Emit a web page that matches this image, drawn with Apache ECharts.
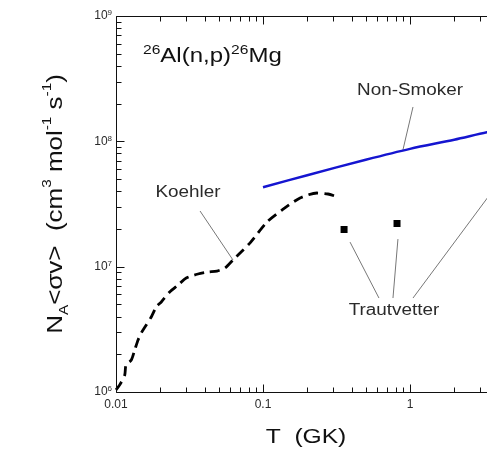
<!DOCTYPE html>
<html><head><meta charset="utf-8">
<script src="https://cdn.jsdelivr.net/npm/echarts@6/dist/echarts.min.js"></script>
<style>html,body{margin:0;padding:0;background:#fff}#c{width:487px;height:456px}</style>
</head><body><div id="c"></div>
<script>
// ---- data ----
const xTickValues = [0.01, 0.1, 1, 10];
const xTickLabels = ['0.01', '0.1', '1', '10'];
const yTickExponents = [6, 7, 8, 9];

const koehlerT = [0.0100, 0.0106, 0.01146, 0.0117, 0.01271, 0.0134, 0.01413, 0.01486, 0.01607, 0.01738, 0.0188, 0.02033, 0.02317, 0.02642, 0.03006, 0.03612, 0.04224, 0.0486, 0.0551, 0.0625, 0.0817, 0.1064, 0.1346, 0.1787, 0.2328, 0.2767, 0.309];
const koehlerRate = [1.04e6, 1.14e6, 1.36e6, 1.64e6, 1.80e6, 2.16e6, 2.60e6, 2.96e6, 3.43e6, 3.97e6, 4.77e6, 5.23e6, 6.28e6, 7.14e6, 8.12e6, 8.74e6, 9.06e6, 9.23e6, 9.75e6, 1.13e7, 1.55e7, 2.27e7, 2.83e7, 3.53e7, 3.87e7, 3.80e7, 3.66e7];

const nonSmokerT = [0.1, 0.2, 0.5, 1, 2, 3.34, 5];
const nonSmokerRate = [4.3e7, 5.37e7, 7.13e7, 8.71e7, 1.03e8, 1.18e8, 1.29e8];

const trautvetterT = [0.356, 0.816];
const trautvetterRate = [1.98e7, 2.21e7];

// leader lines for the annotations (data space)
const koehlerLeader = [[0.0373, 2.78e7], [0.0625, 1.13e7]];
const nonSmokerLeader = [[1.048, 1.88e8], [0.895, 8.53e7]];
const trautLeader1 = [[0.391, 1.57e7], [0.615, 5.62e6]];
const trautLeader2 = [[0.828, 1.66e7], [0.766, 5.62e6]];
const trautLeader3 = [[1.048, 5.62e6], [4.09, 4.82e7]];

// ---- chart ----
const FONT = "'Liberation Sans', Arial, Helvetica, sans-serif";
const TXT = '#2a2a2a';
const X_MIN = 0.01, X_MAX = 10, Y_MIN = 1e6, Y_MAX = 1e9;
const minorXVals = [], minorYVals = [];
for (let d = -2; d < 1; d++) for (let m = 2; m <= 9; m++) minorXVals.push(m * Math.pow(10, d));
for (let d = 6; d < 9; d++) for (let m = 2; m <= 9; m++) minorYVals.push(m * Math.pow(10, d));

const pairs = (xs, ys) => xs.map((x, i) => [x, ys[i]]);
const leader = (d) => ({type: 'line', data: d, symbol: 'none', xAxisIndex: 0, yAxisIndex: 0,
  lineStyle: {color: '#777', width: 1}});

// frame + tick marks, positioned through the axes' scales (api.coord)
function renderFrame(params, api) {
  const snap = p => Math.round(p) + 0.5;
  const c0 = api.coord([X_MIN, Y_MIN]);
  const c1 = api.coord([X_MAX, Y_MAX]);
  const L = snap(c0[0]), B = snap(c0[1]), T = snap(c1[1]), R = c1[0];
  const kids = [];
  const seg = (x1, y1, x2, y2) => kids.push({type: 'line', shape: {x1: x1, y1: y1, x2: x2, y2: y2},
    style: {stroke: '#111', lineWidth: 1}});
  seg(L, B, R, B);
  seg(L, T, R, T);
  seg(L, T, L, B);
  xTickValues.forEach(v => { const x = snap(api.coord([v, Y_MIN])[0]); seg(x, B, x, B - 8); seg(x, T, x, T + 8); });
  minorXVals.forEach(v => { const x = snap(api.coord([v, Y_MIN])[0]); seg(x, B, x, B - 5); seg(x, T, x, T + 5); });
  yTickExponents.forEach(e => { const y = snap(api.coord([X_MIN, Math.pow(10, e)])[1]); seg(L, y, L + 8, y); });
  minorYVals.forEach(v => { const y = snap(api.coord([X_MIN, v])[1]); seg(L, y, L + 5, y); });
  return {type: 'group', children: kids};
}

const chart = echarts.init(document.getElementById('c'));
chart.setOption({
  animation: false,
  grid: {left: 116, top: 16, width: 441, height: 376, containLabel: false, outerBoundsMode: 'none'},
  xAxis: {type: 'log', logBase: 10, min: X_MIN, max: X_MAX, position: 'bottom',
    axisLine: {show: false, onZero: false}, axisTick: {show: false}, splitLine: {show: false},
    axisLabel: {margin: 7, fontSize: 12, fontFamily: FONT, color: TXT,
      formatter: v => { const i = xTickValues.findIndex(t => Math.abs(Math.log10(t) - Math.log10(v)) < 1e-6); return i >= 0 ? xTickLabels[i] : ''; }}},
  yAxis: {type: 'log', logBase: 10, min: Y_MIN, max: Y_MAX, position: 'left',
    axisLine: {show: false, onZero: false}, axisTick: {show: false}, splitLine: {show: false},
    axisLabel: {margin: 4,
      formatter: v => '{b|10}{s|' + Math.round(Math.log10(v)) + '}',
      rich: {b: {fontSize: 12, fontFamily: FONT, color: TXT, lineHeight: 14},
             s: {fontSize: 8, fontFamily: FONT, color: TXT, lineHeight: 8, verticalAlign: 'top'}}}},
  series: [
    {type: 'custom', name: 'frame', xAxisIndex: 0, yAxisIndex: 0, clip: false, silent: true,
     data: [[X_MIN, Y_MIN]], renderItem: renderFrame, z: 5},
    leader(koehlerLeader), leader(nonSmokerLeader), leader(trautLeader1), leader(trautLeader2), leader(trautLeader3),
    {type: 'line', name: 'Non-Smoker', data: pairs(nonSmokerT, nonSmokerRate), symbol: 'none', smooth: 0.3,
     xAxisIndex: 0, yAxisIndex: 0, lineStyle: {color: '#1515d0', width: 2.5}},
    {type: 'line', name: 'Trautvetter', data: pairs(trautvetterT, trautvetterRate), symbol: 'rect', symbolSize: 7, showSymbol: true,
     xAxisIndex: 0, yAxisIndex: 0, itemStyle: {color: '#000', borderWidth: 0}, lineStyle: {width: 0, opacity: 0}},
    {type: 'line', name: 'Koehler', data: pairs(koehlerT, koehlerRate), symbol: 'none', smooth: 0.25,
     xAxisIndex: 0, yAxisIndex: 0, lineStyle: {color: '#000', width: 2.8, type: [10, 6]}}
  ],
  graphic: [
    {type: 'text', x: 143, y: 56, scaleX: 1.2,
     style: {text: '{s|26}{b|Al(n,p)}{s|26}{b|Mg}', align: 'left', verticalAlign: 'middle',
       rich: {s: {fontSize: 13, fontFamily: FONT, fill: '#111', lineHeight: 13, verticalAlign: 'top'},
              b: {fontSize: 20, fontFamily: FONT, fill: '#111', lineHeight: 24}}}},
    {type: 'text', x: 306, y: 437, scaleX: 1.23,
     style: {text: 'T  (GK)', fontSize: 20, fontFamily: FONT, fill: '#111', align: 'center', verticalAlign: 'middle'}},
    {type: 'text', x: 56, y: 204, rotation: Math.PI / 2, scaleX: 1.18,
     style: {text: '{b|N}{sub|A}{b|<σv>  (cm}{sup|3}{b| mol}{sup|-1}{b| s}{sup|-1}{b|)}', align: 'center', verticalAlign: 'middle',
       rich: {b: {fontSize: 22, fontFamily: FONT, fill: '#111', lineHeight: 30},
              sub: {fontSize: 13, fontFamily: FONT, fill: '#111', lineHeight: 13, verticalAlign: 'bottom'},
              sup: {fontSize: 13, fontFamily: FONT, fill: '#111', lineHeight: 13, verticalAlign: 'top'}}}},
    {type: 'text', x: 188, y: 193, scaleX: 1.18,
     style: {text: 'Koehler', fontSize: 16, fontFamily: FONT, fill: TXT, align: 'center', verticalAlign: 'middle'}},
    {type: 'text', x: 410, y: 91, scaleX: 1.18,
     style: {text: 'Non-Smoker', fontSize: 16, fontFamily: FONT, fill: TXT, align: 'center', verticalAlign: 'middle'}},
    {type: 'text', x: 394, y: 311, scaleX: 1.18,
     style: {text: 'Trautvetter', fontSize: 16, fontFamily: FONT, fill: TXT, align: 'center', verticalAlign: 'middle'}}
  ]
});
</script>
</body></html>
